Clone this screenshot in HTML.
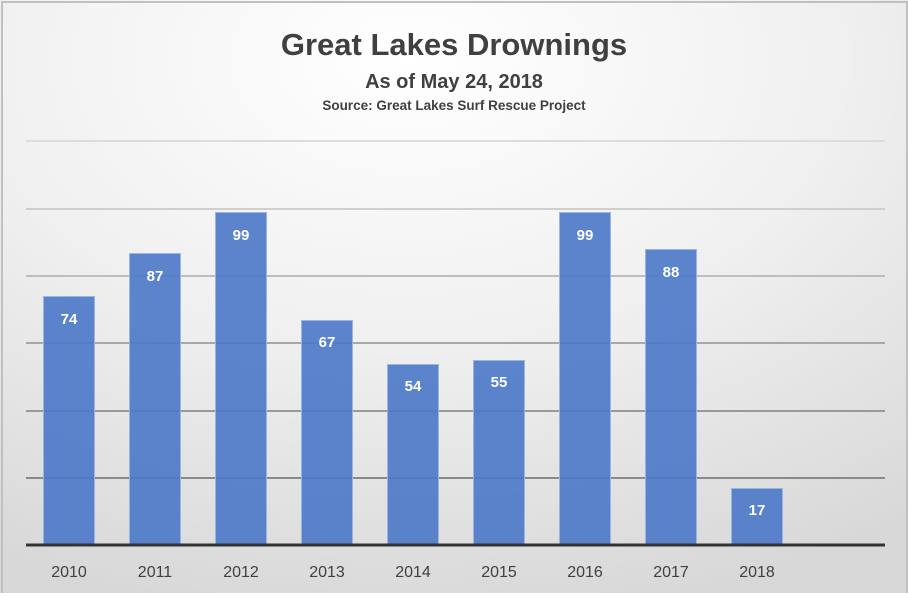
<!DOCTYPE html>
<html><head><style>
html,body{margin:0;padding:0;}
body{width:908px;height:593px;overflow:hidden;font-family:"Liberation Sans",sans-serif;}
</style></head><body>
<svg width="908" height="593" xmlns="http://www.w3.org/2000/svg">
<defs>
<radialGradient id="bg" cx="0.45" cy="0.1" r="0.95">
<stop offset="0" stop-color="#ffffff"/>
<stop offset="0.5" stop-color="#f0f0f0"/>
<stop offset="1" stop-color="#d8d8d8"/>
</radialGradient>
</defs>
<rect x="0" y="0" width="908" height="593" fill="url(#bg)"/>
<rect x="2" y="2" width="905" height="595" fill="none" stroke="#c0c0c0" stroke-width="2"/>
<g font-weight="bold" fill="#404040" text-anchor="middle">
<text x="454" y="55" font-size="31">Great Lakes Drownings</text>
<text x="454" y="88" font-size="20">As of May 24, 2018</text>
<text x="454" y="110" font-size="13.5">Source: Great Lakes Surf Rescue Project</text>
</g>
<g stroke-width="2">
<line x1="26" x2="885" y1="141" y2="141" stroke="#dcdcdc"/>
<line x1="26" x2="885" y1="209" y2="209" stroke="#cfcfcf"/>
<line x1="26" x2="885" y1="276" y2="276" stroke="#bdbdbd"/>
<line x1="26" x2="885" y1="343" y2="343" stroke="#a8a8a8"/>
<line x1="26" x2="885" y1="411" y2="411" stroke="#999"/>
<line x1="26" x2="885" y1="478" y2="478" stroke="#8a8a8a"/>
</g>
<g fill="#4a78c8" fill-opacity="0.9" stroke="#9bb5e3" stroke-width="1">
<rect x="43.5" y="296.5" width="51" height="248"/>
<rect x="129.5" y="253.5" width="51" height="291"/>
<rect x="215.5" y="212.5" width="51" height="332"/>
<rect x="301.5" y="320.5" width="51" height="224"/>
<rect x="387.5" y="364.5" width="51" height="180"/>
<rect x="473.5" y="360.5" width="51" height="184"/>
<rect x="559.5" y="212.5" width="51" height="332"/>
<rect x="645.5" y="249.5" width="51" height="295"/>
<rect x="731.5" y="488.5" width="51" height="56"/>
</g>
<line x1="26" x2="885" y1="545" y2="545" stroke="#333" stroke-width="3"/>
<g fill="#fff" font-weight="bold" font-size="15" text-anchor="middle">
<text x="69" y="324">74</text>
<text x="155" y="281">87</text>
<text x="241" y="240">99</text>
<text x="327" y="347">67</text>
<text x="413" y="391">54</text>
<text x="499" y="387">55</text>
<text x="585" y="240">99</text>
<text x="671" y="277">88</text>
<text x="757" y="515">17</text>
</g>
<g fill="#404040" font-size="16" text-anchor="middle">
<text x="69" y="577">2010</text>
<text x="155" y="577">2011</text>
<text x="241" y="577">2012</text>
<text x="327" y="577">2013</text>
<text x="413" y="577">2014</text>
<text x="499" y="577">2015</text>
<text x="585" y="577">2016</text>
<text x="671" y="577">2017</text>
<text x="757" y="577">2018</text>
</g>
</svg>
</body></html>
